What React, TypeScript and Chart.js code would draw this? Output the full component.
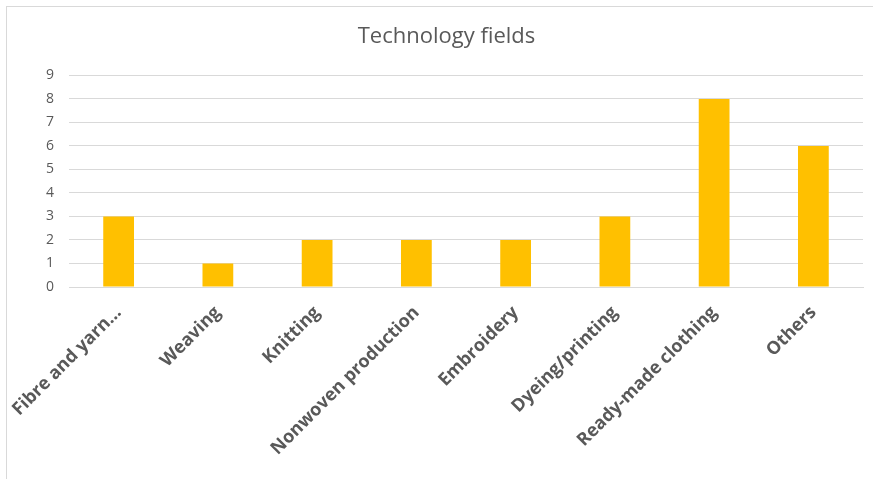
import React, { useEffect, useRef } from "react";
import { Chart, registerables } from "chart.js";

Chart.register(...registerables);

const categories = [
  "Fibre and yarn…",
  "Weaving",
  "Knitting",
  "Nonwoven production",
  "Embroidery",
  "Dyeing/printing",
  "Ready-made clothing",
  "Others",
];
const counts = [3, 1, 2, 2, 2, 3, 8, 6];
const titleText = "Technology fields";
const yMin = 0;
const yMax = 9;

export default function App() {
  const ref = useRef<HTMLCanvasElement | null>(null);

  useEffect(() => {
    if (!ref.current) return;
    const chart = new Chart(ref.current, {
      type: "bar",
      data: {
        labels: categories,
        datasets: [
          {
            data: counts,
            backgroundColor: "#FFC000",
            borderWidth: 0,
            categoryPercentage: 1,
            barPercentage: 0.31,
          },
        ],
      },
      options: {
        responsive: false,
        animation: false,
        devicePixelRatio: 1,
        layout: { padding: { top: 0, left: 30, right: 10, bottom: 0 } },
        plugins: {
          legend: { display: false },
          tooltip: { enabled: false },
          title: {
            display: true,
            text: titleText,
            color: "#595959",
            font: { family: "'Open Sans'", size: 22, weight: "normal" },
            padding: { top: 24, bottom: 25 },
          },
        },
        scales: {
          x: {
            grid: { display: false },
            border: { display: true, color: "#d9d9d9", width: 1 },
            ticks: {
              color: "#595959",
              font: { family: "'Open Sans'", size: 18, weight: "bold" },
              maxRotation: 45,
              minRotation: 45,
              autoSkip: false,
              padding: 7,
            },
            afterFit: (scale: any) => {
              scale.height = 192;
            },
          },
          y: {
            min: yMin,
            max: yMax,
            grid: { color: "#d9d9d9", drawTicks: false, lineWidth: 1 },
            border: { display: false },
            ticks: {
              stepSize: 1,
              color: "#595959",
              font: { family: "'Open Sans'", size: 14 },
              padding: 15,
            },
            afterFit: (scale: any) => {
              scale.width = 39;
            },
          },
        },
      },
    });
    return () => chart.destroy();
  }, []);

  return (
    <div
      style={{
        position: "fixed",
        left: 0,
        top: 0,
        width: 873,
        height: 479,
        background: "#ffffff",
        overflow: "hidden",
      }}
    >
      <div
        style={{
          position: "absolute",
          left: 6,
          top: 6,
          width: 900,
          height: 500,
          border: "1.5px solid #d9d9d9",
        }}
      />
      <canvas
        ref={ref}
        width={873}
        height={479}
        style={{ position: "absolute", left: 0, top: 0, width: 873, height: 479 }}
      />
    </div>
  );
}
